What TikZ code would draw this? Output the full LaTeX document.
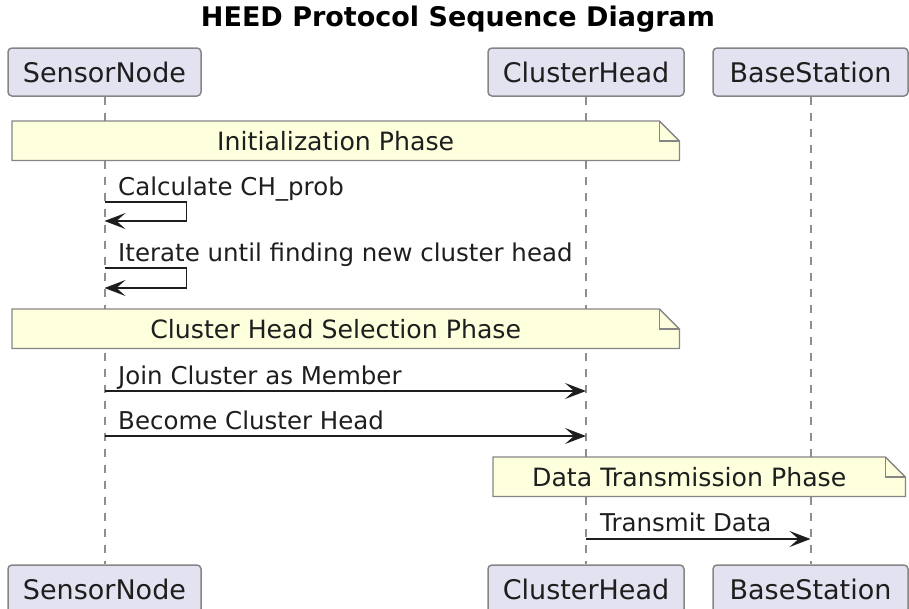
\documentclass[tikz,border=0pt]{standalone}
\usepackage{fontspec}
\setmainfont{DejaVu Sans}
\usetikzlibrary{arrows.meta,calc}

\definecolor{partfill}{HTML}{E2E2F0}
\definecolor{notefill}{HTML}{FEFFDD}
\definecolor{edgegray}{HTML}{858585}
\definecolor{linegray}{HTML}{8F8F8F}
\definecolor{ink}{HTML}{1E1E1E}

\tikzset{
  participant/.style={draw=edgegray, line width=1.5pt, fill=partfill, rounded corners=4pt,
    minimum height=48pt, inner sep=0pt, font=\fontsize{27}{30}\selectfont, text=ink},
  lifeline/.style={draw=linegray, line width=2pt, dash pattern=on 8pt off 8pt},
  notebox/.style={draw=none, inner sep=0pt, minimum height=39pt},
  notetext/.style={font=\fontsize{25.2}{28}\selectfont, text=ink, inner sep=0pt},
  notepaper/.style={draw=edgegray, line width=1.3pt, fill=notefill},
  msgtext/.style={font=\fontsize{24.5}{28}\selectfont, text=ink, inner sep=0pt, anchor=base west},
  msg/.style={draw=ink, line width=1.8pt, -{Stealth[length=21pt,width=16pt,inset=9pt]}},
}

% Note with a folded upper-right corner
\newcommand{\phasenote}[5]{% name, x1, x2, ytop, text
  \node[notebox, minimum width=#3pt-#2pt, anchor=north west] (#1) at (#2,#4) {};
  \draw[notepaper] (#1.north west) -- ($(#1.north east)+(-20pt,0)$) -- ($(#1.north east)+(0,-20pt)$)
     -- (#1.south east) -- (#1.south west) -- cycle;
  \draw[draw=edgegray, line width=1.3pt] ($(#1.north east)+(-20pt,0)$) |- ($(#1.north east)+(0,-20pt)$);
  \node[notetext] at ($(#1.center)+(-10pt,0)$) {#5};
}

\begin{document}
\begin{tikzpicture}[x=1pt,y=-1pt]
  \useasboundingbox (0,0) rectangle (909,608);

  % title
  \node[font=\bfseries\fontsize{27}{30}\selectfont, text=black] (title) at (458,19) {HEED Protocol Sequence Diagram};

  % participants (top and bottom)
  \node[participant, minimum width=193pt] (sn) at (104.5,72) {SensorNode};
  \node[participant, minimum width=196pt] (ch) at (586,72) {ClusterHead};
  \node[participant, minimum width=195pt] (bs) at (810.5,72) {BaseStation};
  \node[participant, minimum width=193pt] (snb) at (104.5,589) {SensorNode};
  \node[participant, minimum width=196pt] (chb) at (586,589) {ClusterHead};
  \node[participant, minimum width=195pt] (bsb) at (810.5,589) {BaseStation};

  % lifelines
  \draw[lifeline] (sn.south) -- (snb.north);
  \draw[lifeline] (ch.south) -- (chb.north);
  \draw[lifeline] (bs.south) -- (bsb.north);

  % phase notes
  \phasenote{init}{12}{679}{121}{Initialization Phase}
  \phasenote{select}{12}{679}{309}{Cluster Head Selection Phase}
  \phasenote{data}{493}{905}{457}{Data Transmission Phase}

  % anchor points on the lifelines
  \coordinate (s1a) at (sn.south |- 0,202);
  \coordinate (s1b) at (sn.south |- 0,221);
  \coordinate (s2a) at (sn.south |- 0,268);
  \coordinate (s2b) at (sn.south |- 0,288);
  \coordinate (m1a) at (sn.south |- 0,391);
  \coordinate (m1b) at (ch.south |- 0,391);
  \coordinate (m2a) at (sn.south |- 0,436);
  \coordinate (m2b) at (ch.south |- 0,436);
  \coordinate (m3a) at (ch.south |- 0,539);
  \coordinate (m3b) at (bs.south |- 0,539);

  % self messages
  \draw[msg] (s1a) -- ++(82,0) |- (s1b);
  \node[msgtext] (l1) at (118,195) {Calculate CH\_prob};
  \draw[msg] (s2a) -- ++(82,0) |- (s2b);
  \node[msgtext] (l2) at (118,261) {Iterate until finding new cluster head};

  % messages between participants
  \draw[msg] (m1a) -- (m1b);
  \node[msgtext] (l3) at (118,384) {Join Cluster as Member};
  \draw[msg] (m2a) -- (m2b);
  \node[msgtext] (l4) at (118,429) {Become Cluster Head};
  \draw[msg] (m3a) -- (m3b);
  \node[msgtext] (l5) at (600,531) {Transmit Data};
\end{tikzpicture}
\end{document}
